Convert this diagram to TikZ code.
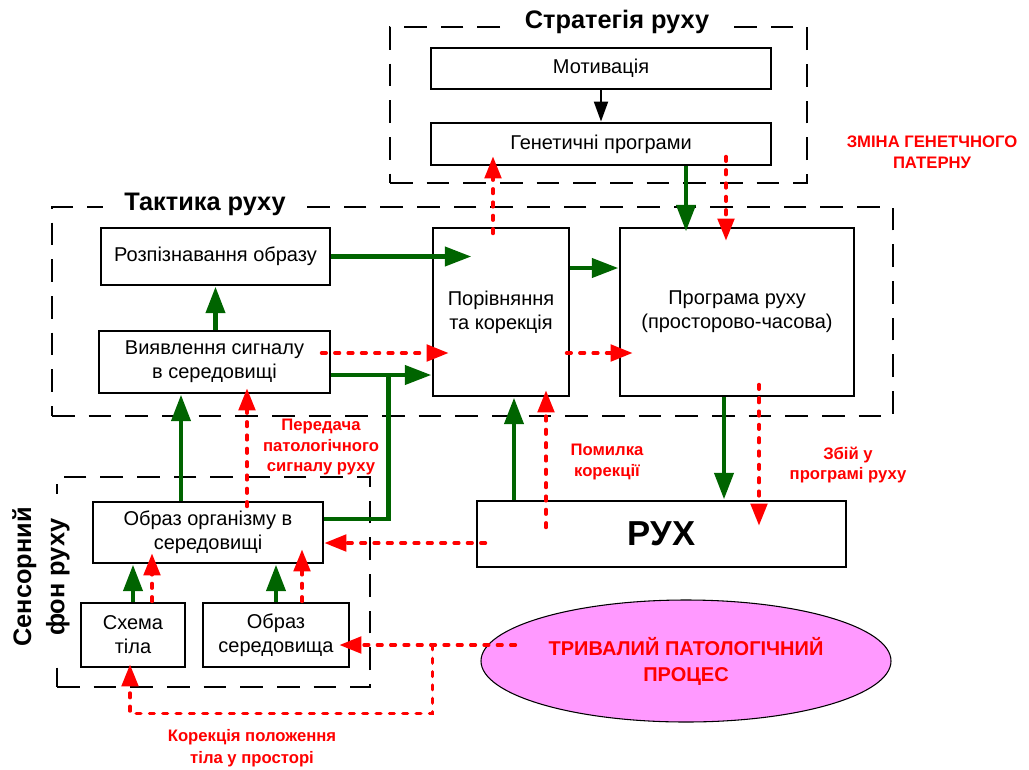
\documentclass[tikz,border=0pt]{standalone}
\usepackage{fontspec}
\setmainfont{Liberation Sans}
\usetikzlibrary{arrows.meta,calc,shapes.geometric}
\definecolor{dgreen}{RGB}{0,100,0}
\definecolor{pinkfill}{RGB}{255,153,255}
\definecolor{rred}{RGB}{255,0,0}
\tikzset{
  box/.style={draw, line width=2.2pt, align=center, inner sep=0pt, font=\fontsize{15}{18}\selectfont},
  group/.style={draw, line width=2.2pt, dash pattern=on 17pt off 10.5pt, inner sep=0pt},
  grouptitle/.style={fill=white, inner xsep=16pt, inner ysep=2pt, font=\bfseries\fontsize{19}{23}\selectfont},
  gr/.style={draw=dgreen, line width=3.7pt, -{Triangle[length=20pt,width=14pt]}},
  grline/.style={draw=dgreen, line width=3.7pt},
  rd/.style={draw=rred, line width=2.5pt, line cap=round, dash pattern=on 3.6pt off 6.4pt, -{Triangle[length=16.5pt,width=12.5pt,line cap=butt]}},
  blk/.style={draw=black, line width=1.6pt, -{Triangle[length=15pt,width=10.5pt]}},
  redlabel/.style={text=rred, align=center, font=\bfseries\fontsize{12.5}{15.5}\selectfont},
}
\begin{document}
\begin{tikzpicture}[x=0.75pt,y=-0.75pt]
\useasboundingbox (0,0) rectangle (1029,769);

% groups
\node[group, minimum width=417*0.75pt, minimum height=156*0.75pt] (strat) at (598.5,105) {};
\node[group, minimum width=841*0.75pt, minimum height=209*0.75pt] (tact) at (472.5,311.5) {};
\node[group, minimum width=313*0.75pt, minimum height=210*0.75pt] (sens) at (213.5,582) {};
\node[grouptitle] (strattitle) at (617,22) {Стратегія руху};
\node[grouptitle] (tacttitle) at (205,204) {Тактика руху};
\node[fill=white, rotate=90, align=center, inner xsep=10pt, inner ysep=1pt, font=\bfseries\fontsize{19}{25}\selectfont] (senstitle) at (41,577) {Сенсорний\\фон руху};

% boxes
\node[box, minimum width=255pt, minimum height=30.75pt] (mot) at (601,68.5) {Мотивація};
\node[box, minimum width=255pt, minimum height=31.5pt] (gen) at (601,144) {Генетичні програми};
\node[box, minimum width=171.75pt, minimum height=42.75pt] (rec) at (215.5,256.5) {Розпізнавання образу};
\node[box, minimum width=173.25pt, minimum height=46.5pt] (det) at (214.5,362) {Виявлення сигналу\\в середовищі};
\node[box, minimum width=102pt, minimum height=126pt] (cmp) at (501,312) {Порівняння\\та корекція};
\node[box, minimum width=175.5pt, minimum height=126pt] (prg) at (737,312) {Програма руху\\(просторово-часова)};
\node[box, minimum width=276.75pt, minimum height=49.5pt, font=\bfseries\fontsize{26}{30}\selectfont] (ruh) at (661.5,534) {РУХ};
\node[box, minimum width=172.5pt, minimum height=45.75pt] (org) at (208,532.5) {Образ організму в\\середовищі};
\node[box, minimum width=78pt, minimum height=48pt] (sch) at (133,635) {Схема\\тіла};
\node[box, minimum width=109.5pt, minimum height=48pt] (env) at (276,635) {Образ\\середовища};
\node[ellipse, draw, line width=0.8pt, fill=pinkfill, minimum width=307.5pt, minimum height=91.5pt, inner sep=0pt, text=rred, align=center, font=\bfseries\fontsize{15}{19.5}\selectfont] (ell) at (686,661) {ТРИВАЛИЙ ПАТОЛОГІЧНИЙ\\ПРОЦЕС};

% labels
\node[redlabel] (lab1) at (932,152) {ЗМІНА ГЕНЕТЧНОГО\\ПАТЕРНУ};
\node[redlabel] (lab2) at (321,447) {Передача\\патологічного\\сигналу руху};
\node[redlabel] (lab3) at (607,462) {Помилка\\корекції};
\node[redlabel] (lab4) at (848,465) {Збій у\\програмі руху};
\node[redlabel, font=\bfseries\fontsize{12.5}{16.5}\selectfont] (lab5) at (252,748) {Корекція положення\\тіла у просторі};

% black arrow
\draw[blk] (mot.south) -- (gen.north);

% green arrows
\draw[gr] (rec.east) -- ($(rec.east -| cmp.west)+(40,0)$);
\draw[gr] ($(cmp.east)+(0,-44)$) -- ($(prg.west)+(0,-44)$);
\draw[gr] (det.north -| rec.south) -- (rec.south);
\coordinate (j) at ($(det.east)+(57,13)$);
\draw[gr] ($(det.east)+(0,13)$) -- ($(cmp.west)+(0,63)$);
\draw[gr] ($(org.north)+(-27,0)$) -- ($(det.south)+(-33.5,0)$);
\draw[grline] ($(org.east)+(0,-13.5)$) -| (j);
\draw[gr] (sch.north) -- (sch.north |- org.south);
\draw[gr] (env.north) -- (env.north |- org.south);
\draw[gr] ($(ruh.north)+(-147.5,0)$) -- ($(cmp.south)+(13,0)$);
\draw[gr] ($(prg.south)+(-13,0)$) -- ($(ruh.north)+(62.5,0)$);
\draw[gr] ($(gen.south)+(85,0)$) -- ($(prg.north)+(-51,5)$);

% red dotted arrows
\draw[rd] ($(cmp.north)+(-8,7)$) -- ($(gen.south)+(-108,-10)$);
\draw[rd] ($(gen.south)+(125,-10)$) -- ($(prg.north)+(-11,14)$);
\draw[rd] ($(det.east)+(-10,-9)$) -- ($(cmp.west)+(17,41)$);
\draw[rd] ($(cmp.east)+(-4,41)$) -- ($(prg.west)+(14,41)$);
\draw[rd] ($(prg.south)+(22,-13)$) -- ($(ruh.north)+(97.5,26)$);
\draw[rd] ($(ruh.north)+(-115.5,28)$) -- ($(cmp.south)+(45,-7)$);
\draw[rd] ($(org.north)+(39,6)$) -- ($(det.south)+(32.5,-6)$);
\draw[rd] ($(ruh.west)+(10,9)$) -- ($(org.east)+(0,10.5)$);
\coordinate (br) at ($(ell.west)+(-48,-16)$);
\draw[rd] ($(ell.west)+(35,-16)$) -- ($(env.east)+(-11,10)$);
\draw[rd] (br) |- ($(sch.south)+(-3,45)$) -- ($(sch.south)+(-3,-4)$);
\draw[rd] ($(sch.north)+(19,0)$) -- ($(org.south)+(-56,-11)$);
\draw[rd] ($(env.north)+(26,0)$) -- ($(org.south)+(94,-15)$);
\end{tikzpicture}
\end{document}
